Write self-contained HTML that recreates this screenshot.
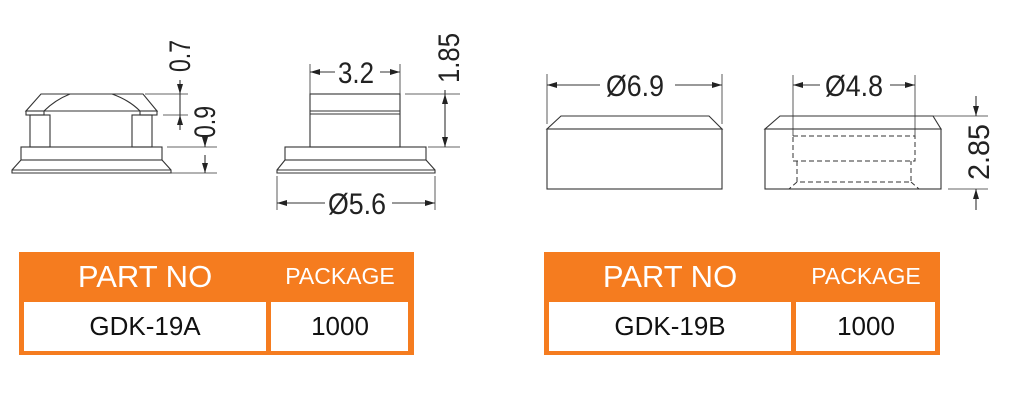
<!DOCTYPE html>
<html><head><meta charset="utf-8"><style>
body{margin:0;background:#fff;width:1010px;height:401px;overflow:hidden}
svg{position:absolute;left:0;top:0}
.t{font-family:"Liberation Sans",sans-serif;fill:#222}
</style></head><body>
<svg width="1010" height="401" viewBox="0 0 1010 401">
<defs>
<marker id="a" viewBox="0 0 10 6" refX="10" refY="3" markerWidth="10" markerHeight="6" orient="auto" markerUnits="userSpaceOnUse"><path d="M0,0L10,3L0,6z" fill="#222"/></marker>
</defs>
<g fill="none" stroke="#333" stroke-width="1.1">
<path d="M41,94H143L157,111H26Z" fill="#fff"/>
<path d="M44,111Q55,100 70,94M140,111Q129,100 112,94"/>
<rect x="26" y="111" width="18" height="4"/><rect x="140" y="111" width="17" height="4"/>
<rect x="30" y="115" width="20" height="32"/><rect x="132" y="115" width="20" height="32"/>
<rect x="21" y="147" width="141" height="13"/>
<path d="M21,160L12,170V173H171V170L162,160M12,170H171"/>
<path d="M145,94H188M163,115H188M167,147H217M171,173H217" stroke-width="0.8"/>
<line x1="180" y1="80" x2="180" y2="94" marker-end="url(#a)"/>
<line x1="180" y1="130" x2="180" y2="115" marker-end="url(#a)"/>
<line x1="180" y1="94" x2="180" y2="115"/>
<line x1="205" y1="140" x2="205" y2="147" marker-end="url(#a)"/>
<line x1="205" y1="155" x2="205" y2="173" marker-end="url(#a)"/>
<rect x="310" y="94" width="90" height="53"/><path d="M310,111H400M310,114H400"/>
<rect x="285" y="147" width="141" height="13"/>
<path d="M285,160L277,170V173H435V170L426,160M277,170H435"/>
<path d="M310,64V94M400,64V94M405,94H460M428,147H460M277,176V210M435,176V210" stroke-width="0.8"/>
<line x1="335" y1="72" x2="310" y2="72" marker-end="url(#a)"/>
<line x1="380" y1="72" x2="400" y2="72" marker-end="url(#a)"/>
<line x1="445" y1="120" x2="445" y2="94" marker-end="url(#a)"/>
<line x1="445" y1="120" x2="445" y2="147" marker-end="url(#a)"/>
<line x1="445" y1="90" x2="445" y2="94"/>
<line x1="325" y1="203" x2="277" y2="203" marker-end="url(#a)"/>
<line x1="392" y1="203" x2="435" y2="203" marker-end="url(#a)"/>
<path d="M561,116H709L722,129H547Z"/>
<rect x="547" y="129" width="175" height="60"/>
<path d="M547,74V124M722,74V124" stroke-width="0.8"/>
<line x1="600" y1="85" x2="547" y2="85" marker-end="url(#a)"/>
<line x1="675" y1="85" x2="722" y2="85" marker-end="url(#a)"/>
<path d="M780,116H933L941,129H765Z"/>
<rect x="765" y="129" width="176" height="60"/>
<g stroke-dasharray="5,3" stroke-width="1">
<rect x="793" y="136" width="122" height="25"/>
<path d="M797,161V182H911V161M797,182L789,189M911,182L919,189"/>
</g>
<path d="M793,75V136M915,75V136M933,116H988M948,189H988" stroke-width="0.8"/>
<line x1="820" y1="85" x2="793" y2="85" marker-end="url(#a)"/>
<line x1="890" y1="85" x2="915" y2="85" marker-end="url(#a)"/>
<line x1="976" y1="96" x2="976" y2="116" marker-end="url(#a)"/>
<line x1="976" y1="210" x2="976" y2="189" marker-end="url(#a)"/>
</g>
<g class="t" font-size="30">
<text x="0" y="0" transform="translate(190,72) rotate(-90)" textLength="32" lengthAdjust="spacingAndGlyphs">0.7</text>
<text x="0" y="0" transform="translate(215,138) rotate(-90)" textLength="32" lengthAdjust="spacingAndGlyphs">0.9</text>
<text x="338" y="83" textLength="36" lengthAdjust="spacingAndGlyphs">3.2</text>
<text x="0" y="0" transform="translate(459,83) rotate(-90)" textLength="50" lengthAdjust="spacingAndGlyphs">1.85</text>
<text x="328" y="214" textLength="58" lengthAdjust="spacingAndGlyphs">Ø5.6</text>
<text x="606" y="96" textLength="58" lengthAdjust="spacingAndGlyphs">Ø6.9</text>
<text x="825" y="96" textLength="58" lengthAdjust="spacingAndGlyphs">Ø4.8</text>
<text x="0" y="0" transform="translate(989,180) rotate(-90)" textLength="56" lengthAdjust="spacingAndGlyphs">2.85</text>
</g>
<g>
<rect x="19" y="252" width="395" height="103" fill="#f57c1f"/>
<rect x="24" y="302" width="242" height="49" fill="#fff"/>
<rect x="271" y="302" width="137" height="49" fill="#fff"/>
<rect x="544" y="252" width="396" height="103" fill="#f57c1f"/>
<rect x="549" y="302" width="242" height="49" fill="#fff"/>
<rect x="796" y="302" width="139" height="49" fill="#fff"/>
</g>
<g font-family="Liberation Sans,sans-serif" text-anchor="middle">
<text x="145" y="287" font-size="31" fill="#fff">PART NO</text>
<text x="340" y="284" font-size="23" fill="#fff">PACKAGE</text>
<text x="145" y="335" font-size="26" fill="#111">GDK-19A</text>
<text x="340" y="335" font-size="26" fill="#111">1000</text>
<text x="670" y="287" font-size="31" fill="#fff">PART NO</text>
<text x="866" y="284" font-size="23" fill="#fff">PACKAGE</text>
<text x="670" y="335" font-size="26" fill="#111">GDK-19B</text>
<text x="866" y="335" font-size="26" fill="#111">1000</text>
</g>
</svg>
</body></html>
